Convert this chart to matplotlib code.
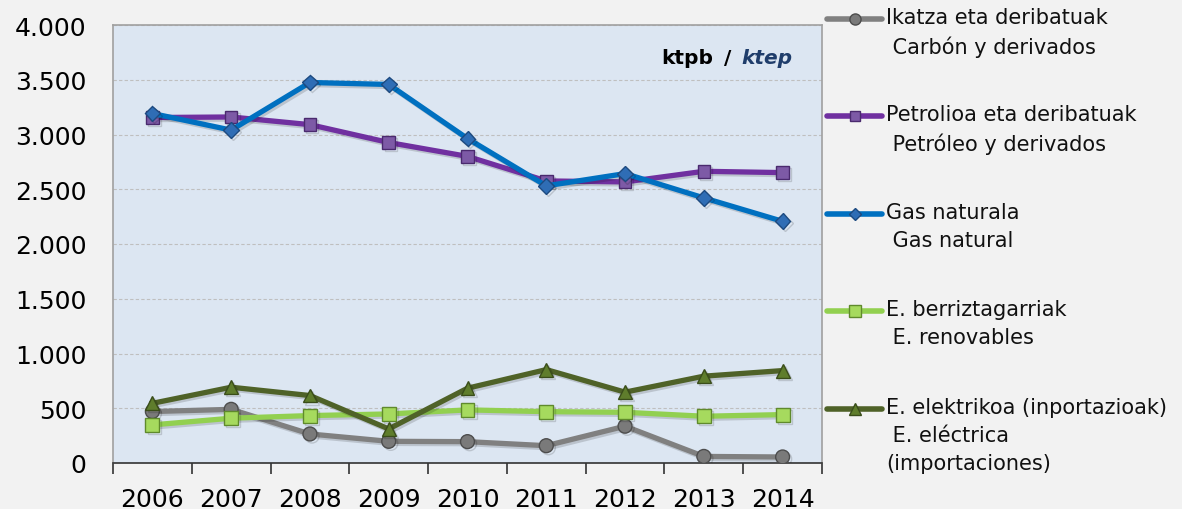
import matplotlib
matplotlib.use("Agg")
import matplotlib.pyplot as plt
from matplotlib.lines import Line2D
from matplotlib.ticker import FuncFormatter, FixedLocator
import matplotlib.patheffects as pe

years = ["2006", "2007", "2008", "2009", "2010", "2011", "2012", "2013", "2014"]
coal = [470, 490, 265, 198, 195, 158, 336, 60, 55]
petroleum = [3155, 3160, 3090, 2927, 2800, 2576, 2567, 2664, 2652]
gas = [3192, 3040, 3475, 3457, 2963, 2531, 2643, 2421, 2207]
renewables = [348, 409, 433, 448, 485, 469, 463, 427, 442]
electricity = [545, 692, 616, 311, 683, 853, 647, 793, 844]

labels = [
    "Ikatza eta deribatuak\n Carbón y derivados",
    "Petrolioa eta deribatuak\n Petróleo y derivados",
    "Gas naturala\n Gas natural",
    "E. berriztagarriak\n E. renovables",
    "E. elektrikoa (inportazioak)\n E. eléctrica\n(importaciones)",
]

series = [coal, petroleum, gas, renewables, electricity]
line_colors = ["#808080", "#7030A0", "#0070C0", "#92D050", "#4F6228"]
marker_face = ["#7a7a7a", "#7d5aa6", "#2f6db5", "#a6da5e", "#5f7d2c"]
marker_edge = ["#4d4d4d", "#4a2a6e", "#1d4a80", "#5f8a2c", "#3a4d1a"]
markers = ["o", "s", "D", "s", "^"]
msizes = [10, 9, 8, 10, 10]

W, H = 1182, 510
fig = plt.figure(figsize=(W / 100, H / 100), dpi=100, facecolor="#F2F2F2")
ax = fig.add_axes([113 / W, 46 / H, (822 - 113) / W, (464 - 26) / H])
ax.set_facecolor("#DCE6F2")

x = list(range(len(years)))
shadow = [pe.SimpleLineShadow(offset=(1.5, -1.5), alpha=0.15, shadow_color="black"), pe.Normal()]
for ys, lc, mf, me, mk, ms in zip(series, line_colors, marker_face, marker_edge, markers, msizes):
    ax.plot(x, ys, color=lc, lw=3.8, marker=mk, ms=ms, mfc=mf, mec=me, mew=1,
            solid_joinstyle="round", path_effects=shadow, zorder=3)

ax.set_xlim(-0.5, len(years) - 0.5)
ax.set_ylim(0, 4000)
ax.set_yticks(range(0, 4001, 500))
ax.yaxis.set_major_formatter(FuncFormatter(lambda v, p: f"{int(v):,}".replace(",", ".")))
ax.tick_params(axis="y", length=0, pad=19, labelsize=18)

ax.xaxis.set_major_locator(FixedLocator([i - 0.5 for i in range(len(years) + 1)]))
ax.xaxis.set_minor_locator(FixedLocator(x))
ax.set_xticklabels([], minor=False)
ax.set_xticklabels(years, minor=True)
ax.tick_params(axis="x", which="major", length=8, width=1.2, color="#333333", direction="out")
ax.tick_params(axis="x", which="minor", length=0, pad=17, labelsize=18)

ax.yaxis.grid(True, color="#BFBFBF", lw=0.8, ls=(0, (3, 2)))
ax.set_axisbelow(True)
for s in ["left", "top", "right"]:
    ax.spines[s].set_color("#A0A0A0")
    ax.spines[s].set_linewidth(1.2)
ax.spines["bottom"].set_color("#333333")
ax.spines["bottom"].set_linewidth(1.2)

# unit label
uy = 1 - 58 / H
fig.text(661 / W, uy, "ktpb", ha="left", va="center", fontsize=14.5, fontweight="bold", color="black")
fig.text(728 / W, uy, "/", ha="center", va="center", fontsize=14.5, fontweight="bold", color="black")
fig.text(741 / W, uy, "ktep", ha="left", va="center", fontsize=14.5, fontweight="bold",
         style="italic", color="#1F3D6B")

# Legend (manual)
first_line_y = [20, 117, 215, 312, 410]
for ys_, lc, mf, me, mk, ms, lab in zip(first_line_y, line_colors, marker_face, marker_edge,
                                        markers, msizes, labels):
    yf = 1 - ys_ / H
    fig.add_artist(Line2D([827 / W, 882 / W], [yf, yf], transform=fig.transFigure,
                          color=lc, lw=4, solid_capstyle="round"))
    fig.add_artist(Line2D([855 / W], [yf], transform=fig.transFigure, marker=mk,
                          ms=ms * 0.8, mfc=mf, mec=me, mew=1, ls="none"))
    fig.text(886 / W, yf + 12 / H, lab, ha="left", va="top", fontsize=15,
             linespacing=1.5, color="#111111")

fig.savefig("out.png", dpi=100, facecolor=fig.get_facecolor())
